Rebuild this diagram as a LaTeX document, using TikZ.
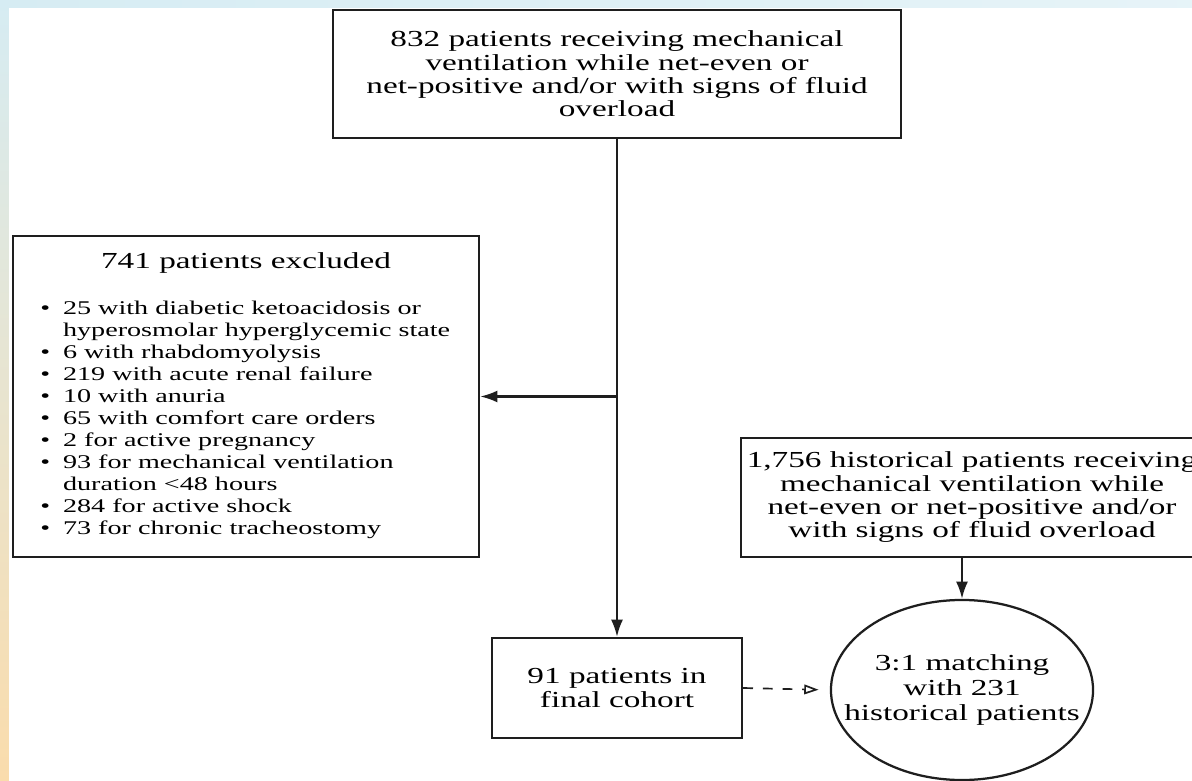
\documentclass[tikz,border=0pt]{standalone}
\usepackage{fontspec}
\setmainfont[FakeStretch=1.45]{Liberation Serif}
\usepackage{tikz}
\usetikzlibrary{arrows.meta,shapes.geometric}

\definecolor{edgeblue}{RGB}{214,236,243}
\definecolor{edgeorange}{RGB}{250,220,172}
\definecolor{framegray}{RGB}{30,30,30}

\newcommand{\bigtxt}{\fontsize{16.3}{16.6}\selectfont}
\newcommand{\midtxt}{\fontsize{16.3}{17.7}\selectfont}
\newcommand{\smalltxt}{\fontsize{13.8}{15.6}\selectfont}
\newcommand{\itm}{\makebox[0.57cm][l]{\textbullet}}
\newcommand{\cnt}{\hspace*{0.57cm}}

\begin{document}
\begin{tikzpicture}[x=0.025cm,y=-0.025cm,
  box/.style={draw=framegray, line width=1.6pt, fill=white, inner sep=0pt},
  arr/.style={draw=framegray, line width=1.6pt, -{Latex[length=4.3mm,width=3mm]}},
  dasharr/.style={draw=framegray, line width=1.2pt, dash pattern=on 7pt off 7pt,
    -{Triangle[open,length=3.6mm,width=2.4mm]}, shorten >=0.28cm}]
\useasboundingbox (0,0) rectangle (1192,781);
\clip (0,0) rectangle (1192,781);
%% background
\shade [top color=edgeblue, bottom color=edgeorange] (0,0) rectangle (9,781);
\shade [left color=edgeblue, right color=edgeblue!60] (0,0) rectangle (1192,8);
\fill [white] (9,8) rectangle (1192,781);

%% boxes
\node [box, minimum width=14.2cm, minimum height=3.2cm, align=center, font=\bigtxt]
  (start) at (617,74) {832 patients receiving mechanical\\ventilation while net-even or\\net-positive and/or with signs of fluid\\overload};
\node [box, minimum width=11.65cm, minimum height=8.025cm] (excl) at (246,396.5) {};
\node [font=\bigtxt] (exclhead) at (246,263) {741 patients excluded};
\node [anchor=west, inner sep=0pt, align=left, font=\smalltxt] (excllist) at (40,420)
  {\itm 25 with diabetic ketoacidosis or\\
   \cnt hyperosmolar hyperglycemic state\\
   \itm 6 with rhabdomyolysis\\
   \itm 219 with acute renal failure\\
   \itm 10 with anuria\\
   \itm 65 with comfort care orders\\
   \itm 2 for active pregnancy\\
   \itm 93 for mechanical ventilation\\
   \cnt duration <48 hours\\
   \itm 284 for active shock\\
   \itm 73 for chronic tracheostomy};
\node [box, minimum width=6.25cm, minimum height=2.5cm, align=center, font=\midtxt]
  (final) at (617,688) {91 patients in\\final cohort};
\node [box, minimum width=11.55cm, minimum height=2.975cm, align=center, font=\bigtxt]
  (hist) at (972,497.5) {1,756 historical patients receiving\\mechanical ventilation while\\net-even or net-positive and/or\\with signs of fluid overload};
\node [box, ellipse, minimum width=6.55cm, minimum height=4.5cm] (match) at (962,690) {};
\node [align=center, font=\midtxt] (matchtxt) at (match.center) {3:1 matching\\with 231\\historical patients};

%% connectors
\draw [arr] (start.south) -- (final.north);
\draw [arr] (start.south |- excl.east) -- (excl.east);
\draw [arr] (match.north |- hist.south) -- (match.north);
\draw [dasharr] (final.east) -- (match.west);

\end{tikzpicture}
\end{document}
